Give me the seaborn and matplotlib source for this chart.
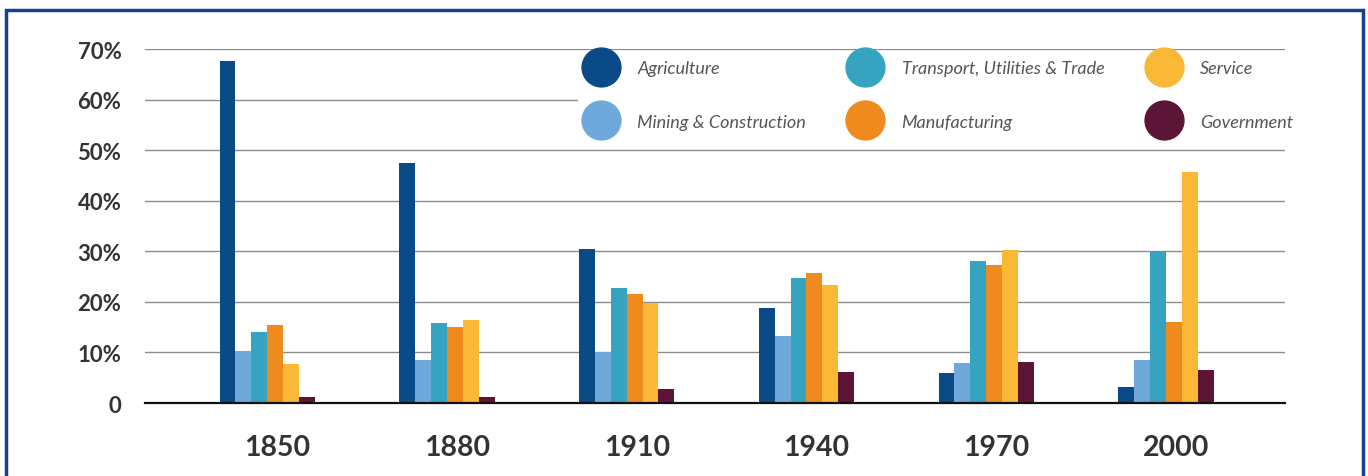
import pandas as pd
import matplotlib.pyplot as plt
import matplotlib.transforms as mtransforms
from matplotlib.lines import Line2D
from matplotlib.patches import Rectangle
import seaborn as sns

sns.set_style("white")
plt.rcParams["font.family"] = ["Lato", "DejaVu Sans"]

years = ["1850", "1880", "1910", "1940", "1970", "2000"]
sectors = ["Agriculture", "Mining & Construction", "Transport, Utilities & Trade",
           "Manufacturing", "Service", "Government"]
colors = ["#0a4b87", "#6fa8db", "#36a4c1", "#ef8a1f", "#f9b937", "#5d1537"]

agriculture = [67.6, 47.4, 30.4, 18.8, 5.9, 3.2]
mining = [10.3, 8.5, 10.1, 13.2, 7.9, 8.5]
transport = [14.0, 15.8, 22.7, 24.7, 28.1, 30.0]
manufacturing = [15.4, 15.0, 21.5, 25.7, 27.3, 16.1]
service = [7.7, 16.4, 19.8, 23.3, 30.2, 45.6]
government = [1.2, 1.2, 2.8, 6.1, 8.1, 6.5]

values = [agriculture, mining, transport, manufacturing, service, government]
df = pd.DataFrame({
    "year": years * len(sectors),
    "sector": [s for s in sectors for _ in years],
    "share": [v for series in values for v in series],
})

fig = plt.figure(figsize=(13.68, 4.77), dpi=100)
ax = fig.add_axes([0.106, 0.153, 0.833, 0.742])

sns.barplot(data=df, x="year", y="share", hue="sector", hue_order=sectors,
            palette=colors, saturation=1, width=0.53, gap=0, legend=False,
            linewidth=0, edgecolor="none", ax=ax)

ax.set_ylim(0, 70)
ax.set_xlim(-0.68, 5.66)
ax.set_yticks(range(0, 71, 10))
ax.set_yticklabels(["0"] + [f"{v}%" for v in range(10, 71, 10)])
ax.yaxis.grid(True, color="#8c8c8c", lw=1)
ax.set_axisbelow(True)
for side in ["top", "right", "left"]:
    ax.spines[side].set_visible(False)
ax.spines["bottom"].set_color("#111111")
ax.spines["bottom"].set_linewidth(1.6)
ax.set_xlabel("")
ax.set_ylabel("")

ax.tick_params(axis="y", length=0, pad=17, labelsize=16, labelcolor="#333333")
ax.tick_params(axis="x", direction="inout", length=11, width=1.5, color="#111111",
               pad=17, labelsize=20.5, labelcolor="#333333")
for lab in ax.get_yticklabels() + ax.get_xticklabels():
    lab.set_fontweight("bold")
shift = mtransforms.ScaledTranslation(10 / 100, 0, fig.dpi_scale_trans)
for lab in ax.get_xticklabels():
    lab.set_transform(lab.get_transform() + shift)

handles = [Line2D([0], [0], marker="o", ls="", markersize=28,
                  markerfacecolor=c, markeredgecolor=c) for c in colors]
leg = ax.legend(handles, sectors, ncol=3, loc="upper left",
                bbox_to_anchor=(0.4222, 0.89), bbox_transform=fig.transFigure,
                frameon=True, facecolor="white", edgecolor="white", framealpha=1,
                prop=dict(family="Lato", style="italic", size=13),
                handlelength=1.6, handletextpad=1.2, columnspacing=2.5,
                labelspacing=2.05, borderpad=0.5, borderaxespad=0)
for t in leg.get_texts():
    t.set_color("#555555")

# outer frame
fig.patches.append(Rectangle((6 / 1368, -0.05), 1357 / 1368, 1.05 - 11 / 477,
                             transform=fig.transFigure, fill=False,
                             edgecolor="#17408c", lw=2.5))

fig.savefig("out.png", dpi=100)
